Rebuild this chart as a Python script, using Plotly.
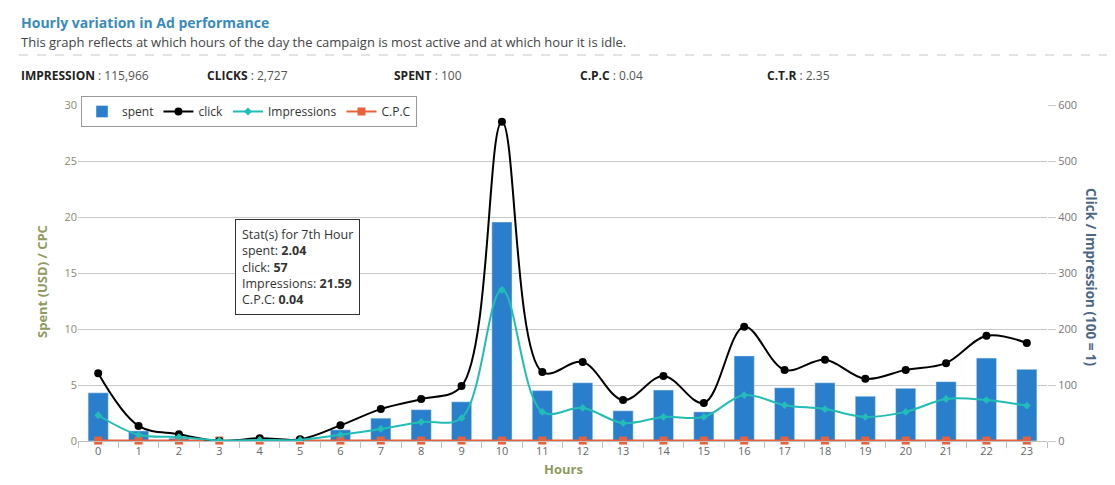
import plotly.graph_objects as go

hours = [str(h) for h in range(24)]
spent = [4.3, 0.9, 0.25, 0.05, 0.1, 0.1, 1.0, 2.04, 2.8, 3.5, 19.55, 4.5, 5.2, 2.7, 4.55, 2.6, 7.6, 4.75, 5.2, 4.0, 4.7, 5.3, 7.4, 6.4]
clicks = [121, 27, 12, 0, 5, 3, 28, 57, 75, 98, 570, 123, 141, 73, 116, 68, 204, 127, 145, 111, 127, 139, 188, 175]
impressions = [46, 11, 7, 1, 2, 2, 11, 21.59, 34, 41, 270, 52, 59, 32, 43, 43, 82, 64, 57, 43, 52, 75, 73, 63]
cpc = [0.04] * 24

PAGE_W, PAGE_H = 1115, 485
OFF = 8  # default body margin of the html page
W, H = PAGE_W - 2 * OFF, PAGE_H - 2 * OFF
L, R, T, B = 78, 1047, 105, 441  # plot area in page pixels
FONT = "Open Sans"


def px(x):
    return (x - L) / (R - L)


def py(y):
    return (B - y) / (B - T)


fig = go.Figure()
fig.add_trace(go.Bar(x=hours, y=spent, name="spent", marker_color="#2a7fcc", width=0.5, yaxis="y"))
fig.add_trace(go.Scatter(x=hours, y=clicks, name="click", yaxis="y2", mode="lines+markers",
                         line=dict(color="#000000", width=2, shape="spline", smoothing=1.0),
                         marker=dict(color="#000000", size=8, symbol="circle")))
fig.add_trace(go.Scatter(x=hours, y=impressions, name="Impressions", yaxis="y2", mode="lines+markers",
                         line=dict(color="#22bdb5", width=2, shape="spline", smoothing=1.0),
                         marker=dict(color="#22bdb5", size=6, symbol="diamond")))
fig.add_trace(go.Scatter(x=hours, y=cpc, name="C.P.C", yaxis="y", mode="lines+markers", cliponaxis=False,
                         line=dict(color="#e8603c", width=2),
                         marker=dict(color="#e8603c", size=8, symbol="square")))

annotations = [
    dict(x=px(19), y=py(22), xref="paper", yref="paper", xanchor="left", yanchor="middle", showarrow=False,
         text="<b>Hourly variation in Ad performance</b>", font=dict(family=FONT, size=14, color="#3a8bbd")),
    dict(x=px(19), y=py(42), xref="paper", yref="paper", xanchor="left", yanchor="middle", showarrow=False,
         text="This graph reflects at which hours of the day the campaign is most active and at which hour it is idle.",
         font=dict(family=FONT, size=13, color="#444444")),
]
stats = [(19, "IMPRESSION", "115,966"), (205, "CLICKS", "2,727"), (392, "SPENT", "100"),
         (578, "C.P.C", "0.04"), (765, "C.T.R", "2.35")]
for x0, lab, val in stats:
    annotations.append(dict(x=px(x0), y=py(75), xref="paper", yref="paper", xanchor="left", yanchor="middle",
                            showarrow=False,
                            text=f"<b>{lab}</b><span style='color:#555555'> : {val}</span>",
                            font=dict(family=FONT, size=12, color="#222222")))
annotations += [
    dict(x=px(42), y=py(282), xref="paper", yref="paper", xanchor="center", yanchor="middle", textangle=-90,
         showarrow=False, text="<b>Spent (USD) / CPC</b>", font=dict(family=FONT, size=13, color="#8f9a5c")),
    dict(x=px(1091), y=py(277), xref="paper", yref="paper", xanchor="center", yanchor="middle", textangle=90,
         showarrow=False, text="<b>Click / Impression (100 = 1)</b>",
         font=dict(family=FONT, size=13.5, color="#4b6784")),
    dict(x=px(563), y=py(469), xref="paper", yref="paper", xanchor="center", yanchor="middle", showarrow=False,
         text="<b>Hours</b>", font=dict(family=FONT, size=13, color="#8f9a5c")),
    dict(x=px(235), y=py(219), xref="paper", yref="paper", xanchor="left", yanchor="top", showarrow=False,
         align="left", bgcolor="rgba(255,255,255,0.95)", bordercolor="#333333", borderwidth=1, borderpad=6,
         text="Stat(s) for 7th Hour<br>spent: <b>2.04</b><br>click: <b>57</b><br>Impressions: <b>21.59</b><br>C.P.C: <b>0.04</b>",
         font=dict(family=FONT, size=12.5, color="#333333")),
]

fig.update_layout(
    width=W, height=H,
    margin=dict(l=L - OFF, r=(OFF + W) - R, t=T - OFF, b=(OFF + H) - B),
    paper_bgcolor="white", plot_bgcolor="white",
    font=dict(family=FONT, size=11, color="#666666"),
    barmode="overlay",
    showlegend=True,
    legend=dict(x=px(81), y=py(96), xanchor="left", yanchor="top", orientation="h",
                bordercolor="#999999", borderwidth=1, bgcolor="white",
                font=dict(family=FONT, size=12, color="#333333"), itemwidth=30,
                traceorder="normal"),
    xaxis=dict(type="category", range=[-0.5, 23.5], showgrid=False, showline=True, linecolor="#c0c0c0",
               ticks="outside", tickson="boundaries", ticklen=6, tickcolor="#c0c0c0",
               tickfont=dict(family=FONT, size=11, color="#666666")),
    yaxis=dict(range=[0, 30], dtick=5, showgrid=True, gridcolor="#c8c8c8", zeroline=False,
               tickfont=dict(family=FONT, size=11, color="#8a8a70")),
    yaxis2=dict(range=[0, 600], dtick=100, overlaying="y", side="right", showgrid=False, zeroline=False,
                ticks="outside", ticklen=8, tickcolor="#c8c8c8",
                tickfont=dict(family=FONT, size=11, color="#777777")),
    annotations=annotations,
    shapes=[dict(type="line", xref="paper", yref="paper", x0=px(19), x1=px(1107), y0=py(55), y1=py(55),
                 line=dict(color="#c8c8c8", width=1, dash="dash"))],
)

fig.write_html("out.html")
